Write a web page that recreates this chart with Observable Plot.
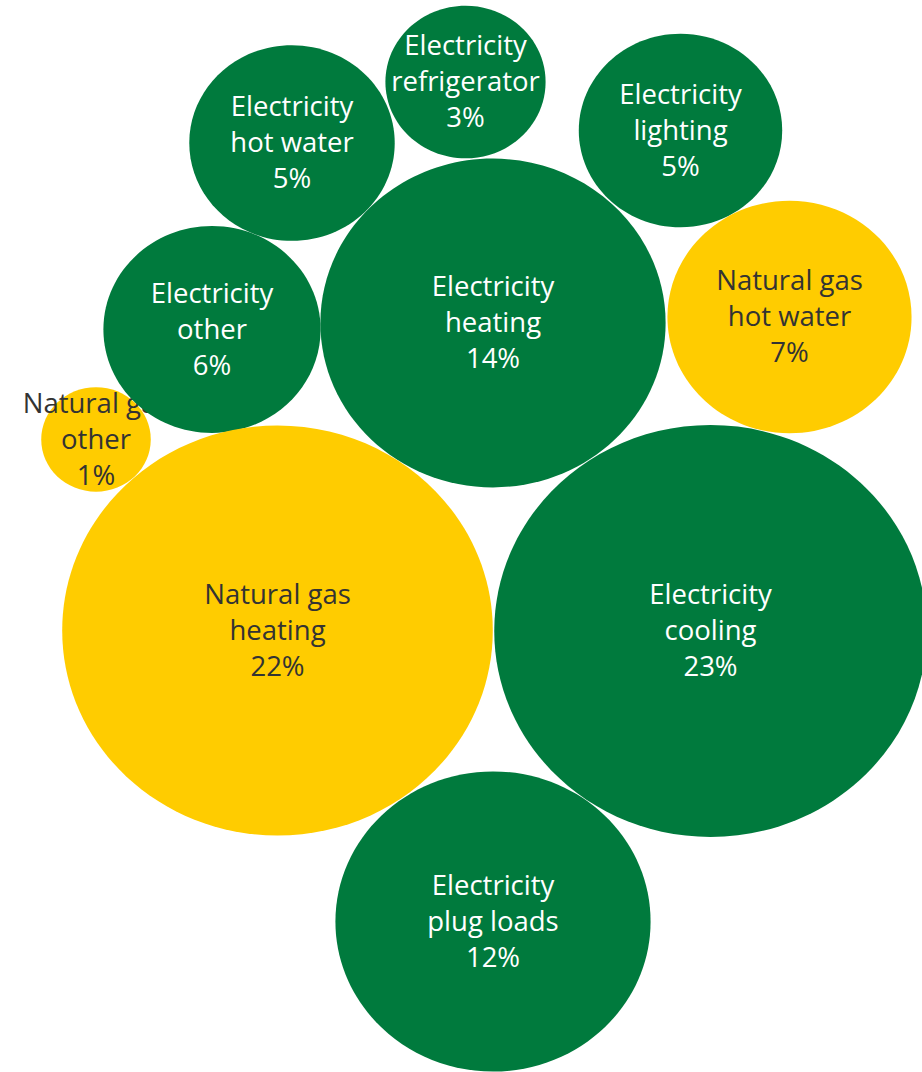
<!DOCTYPE html>
<html>
<head>
<meta charset="utf-8">
<script src="https://cdn.jsdelivr.net/npm/d3@7"></script>
<script src="https://cdn.jsdelivr.net/npm/@observablehq/plot@0.6"></script>
<style>
  html, body { margin: 0; padding: 0; background: #fff; overflow: hidden; }
  #chart svg { display: block; }
</style>
</head>
<body>
<div id="chart"></div>
<script>
// Drawing order matters: "Natural gas other" label is partly hidden under "Electricity other".
const fuels  = ["Electricity", "Electricity", "Electricity", "Natural gas", "Electricity", "Electricity", "Natural gas", "Natural gas", "Electricity", "Electricity"];
const uses   = ["refrigerator", "hot water", "lighting", "other", "other", "heating", "hot water", "heating", "cooling", "plug loads"];
const shares = [3.1, 5.1, 5.0, 1.45, 5.7, 14.4, 7.2, 22.4, 22.6, 12.0];
// bubble layout positions (layout units)
const posX   = [465, 291.5, 680, 95.5, 211.5, 492.5, 789, 277, 710, 492.5];
const posY   = [81.5, 142.5, 130, 439, 329, 322.5, 316.5, 630, 630.5, 921];

const fuelDomain = ["Electricity", "Natural gas"];
const fillColors = ["#007a3d", "#ffcc00"];
const textColors = ["#ffffff", "#333333"];

const data = fuels.map((f, i) => ({
  fuel: f, use: uses[i], share: shares[i], x: posX[i], y: posY[i],
  label: `${f}\n${uses[i]}\n${Math.round(shares[i])}%`
}));

// ellipse symbol (slightly wider than tall)
const ellipse = {
  draw(ctx, size) {
    const r = Math.sqrt(size / Math.PI);
    const rx = r * 1.05, ry = r, k = 0.5522847498;
    ctx.moveTo(rx, 0);
    ctx.bezierCurveTo(rx, ry * k, rx * k, ry, 0, ry);
    ctx.bezierCurveTo(-rx * k, ry, -rx, ry * k, -rx, 0);
    ctx.bezierCurveTo(-rx, -ry * k, -rx * k, -ry, 0, -ry);
    ctx.bezierCurveTo(rx * k, -ry, rx, -ry * k, rx, 0);
    ctx.closePath();
  }
};

const marks = data.flatMap(d => [
  Plot.dot([d], {x: "x", y: "y", r: "share", fill: "fuel", symbol: ellipse, stroke: null}),
  Plot.text([d], {x: "x", y: "y", text: "label",
    fill: textColors[fuelDomain.indexOf(d.fuel)],
    fontSize: 27.5, lineHeight: 36 / 27.5, dy: -2.5, fontFamily: "Open Sans", textAnchor: "middle"})
]);

const chart = Plot.plot({
  width: 922,
  height: 1072,
  margin: 0,
  style: {fontFamily: "Open Sans", background: "#fff", overflow: "hidden"},
  x: {domain: [0, 922], range: [0, 922], axis: null},
  y: {domain: [0, 1072], range: [0, 1072], axis: null},
  r: {type: "sqrt", domain: [0, 22.5], range: [0, 205.5]},
  color: {domain: fuelDomain, range: fillColors},
  marks
});
document.getElementById("chart").appendChild(chart);
</script>
</body>
</html>
